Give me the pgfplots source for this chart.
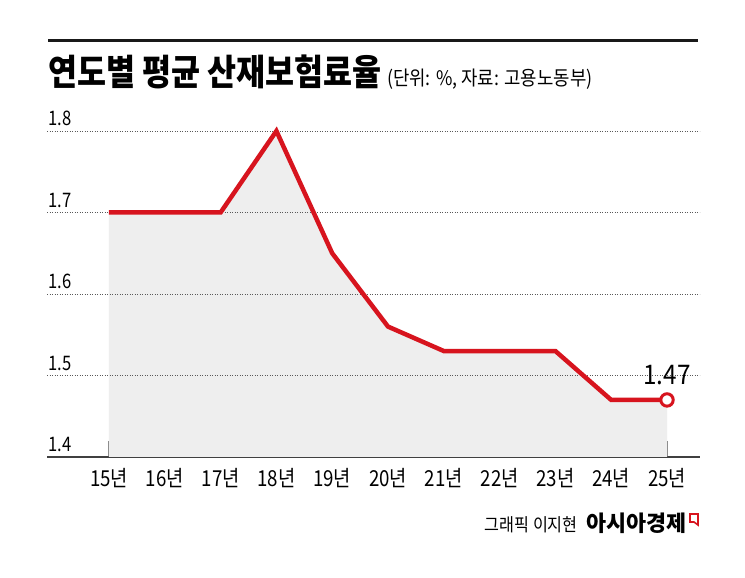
\documentclass[border=0pt]{standalone}
\usepackage{pgfplots}
\pgfplotsset{compat=1.18}
\usepackage{fontspec}
\setmainfont{Noto Sans CJK KR}
\definecolor{lred}{RGB}{215,20,30}
\definecolor{lfill}{RGB}{238,238,238}
\newcommand{\xl}[1]{\scalebox{0.85}[1]{#1}}
\newcommand{\yl}[1]{\scalebox{0.83}[1]{#1}}
\begin{document}
\begin{tikzpicture}[x=1pt,y=1pt]
\fill[white] (0,0) rectangle (745,578);
\draw[line width=3pt, black!90] (48,537) -- (698,537);
\node[anchor=base west, inner sep=0] at (48,492) {\scalebox{0.876}[1]{\fontsize{36}{36}\selectfont\bfseries 연도별 평균 산재보험료율}};
\node[anchor=base west, inner sep=0] at (387,492) {\scalebox{0.89}[1]{\fontsize{20}{20}\selectfont (단위: \%, 자료: 고용노동부)}};
\begin{axis}[at={(47pt,121pt)}, anchor=south west, scale only axis,
  width=653pt, height=366.75pt,
  xmin=-1.111, xmax=10.591, ymin=1.4, ymax=1.85,
  axis x line=bottom, axis y line=left,
  x axis line style={-, draw=black!75, line width=1.8pt},
  y axis line style={draw=none},
  xtick={0,...,10},
  xticklabels={\xl{15년},\xl{16년},\xl{17년},\xl{18년},\xl{19년},\xl{20년},\xl{21년},\xl{22년},\xl{23년},\xl{24년},\xl{25년}},
  xtick style={draw=black!50, line width=1pt},
  major tick length=16pt, tick align=inside,
  xticklabel style={font=\fontsize{22}{22}\selectfont, inner sep=0pt, anchor=base, yshift=-30pt},
  ytick={1.4,1.5,1.6,1.7,1.8},
  yticklabels={\yl{1.4},\yl{1.5},\yl{1.6},\yl{1.7},\yl{1.8}},
  ytick style={draw=none},
  yticklabel style={anchor=base west, inner sep=0pt, xshift=1pt, yshift=5pt, font=\fontsize{20}{20}\selectfont},
]
\addplot[fill=lfill, draw=none] coordinates {
 (0,1.70) (1,1.70) (2,1.70) (3,1.80) (4,1.65) (5,1.56) (6,1.53) (7,1.53) (8,1.53) (9,1.47) (10,1.47)} \closedcycle;
\foreach \g in {1.5,1.6,1.7,1.8} {
  \edef\tmp{\noexpand\draw[black!65, line width=0.8pt, dash pattern=on 1pt off 1.5pt] (axis cs:-1.111,\g) -- (axis cs:10.591,\g);}\tmp
}
\addplot[lred, line width=4.5pt, line join=miter, mark=none] coordinates {
 (0,1.70) (1,1.70) (2,1.70) (3,1.80) (4,1.65) (5,1.56) (6,1.53) (7,1.53) (8,1.53) (9,1.47) (10,1.47)};
\addplot[only marks, mark=*, mark size=6.2pt, mark options={fill=white, draw=lred, line width=3pt},
  nodes near coords={\scalebox{0.9}[1]{1.47}},
  nodes near coords style={anchor=base, inner sep=0pt, yshift=15pt, font=\fontsize{27}{27}\selectfont, text=black}]
  coordinates {(10,1.47)};
\end{axis}
\node[anchor=base east, inner sep=0] at (578,46) {\scalebox{0.9}[1]{\fontsize{18}{18}\selectfont 그래픽 이지현}};
\node[anchor=base east, inner sep=0] at (687,46) {\scalebox{0.99}[1]{\fontsize{22}{22}\selectfont\bfseries 아시아경제}};
\draw[lred, line width=1.6pt, line join=miter] (690,64) -- (698,64) -- (698,53) -- (694,56) -- (690,56) -- cycle;
\path[use as bounding box] (0,0) rectangle (745,578);
\end{tikzpicture}
\end{document}
